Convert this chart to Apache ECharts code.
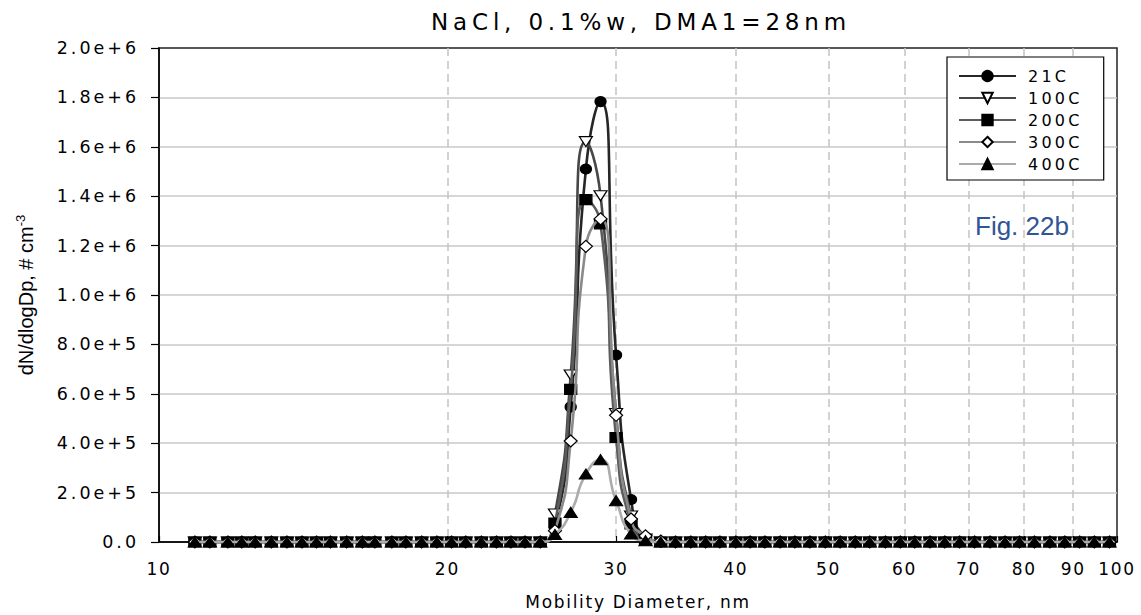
<!DOCTYPE html>
<html>
<head>
<meta charset="utf-8">
<script src="https://cdn.jsdelivr.net/npm/echarts@6/dist/echarts.min.js"></script>
<style>
  html, body { margin: 0; padding: 0; background: #fff; }
  #chart { width: 1141px; height: 615px; }
  #chart text[fill="#000001"] { letter-spacing: 0.21em; }
  #chart text[fill="#000002"] { letter-spacing: 0.17em; }
  #chart text[fill="#000003"] { letter-spacing: 0.1em; }
  #chart text[fill="#000004"] { letter-spacing: 0.2em; }
  #chart text[fill="#000005"] { letter-spacing: 0.1em; }
</style>
</head>
<body>
<div id="chart"></div>
<script>
// Mobility diameters (nm), SMPS channel midpoints
const diameters = [10.9, 11.3, 11.8, 12.2, 12.6, 13.1, 13.6, 14.1, 14.6, 15.1, 15.7, 16.3, 16.8, 17.5, 18.1, 18.8, 19.5, 20.2, 20.9, 21.7, 22.5, 23.3, 24.1, 25.0,
  25.9, 26.9, 27.9, 28.9, 30.0, 31.1, 32.2, 33.4,
  34.6, 35.9, 37.2, 38.5, 40.0, 41.4, 42.9, 44.5, 46.1, 47.8, 49.6, 51.4, 53.3, 55.2, 57.3, 59.4, 61.5, 63.8, 66.1, 68.5, 71.0, 73.7, 76.4, 79.1, 82.0, 85.1, 88.2, 91.4, 94.7, 98.2];

const seriesNames = ['21C', '100C', '200C', '300C', '400C'];

const v21C = [0,0,0,0,0,0,0,0,0,0,0,0,0,0,0,0,0,0,0,0,0,0,0,0,
  60000, 547000, 1510000, 1783000, 757000, 172000, 20000, 0,
  0,0,0,0,0,0,0,0,0,0,0,0,0,0,0,0,0,0,0,0,0,0,0,0,0,0,0,0,0,0];
const v100C = [0,0,0,0,0,0,0,0,0,0,0,0,0,0,0,0,0,0,0,0,0,0,0,0,
  113000, 676000, 1621000, 1402000, 520000, 105000, 12000, 0,
  0,0,0,0,0,0,0,0,0,0,0,0,0,0,0,0,0,0,0,0,0,0,0,0,0,0,0,0,0,0];
const v200C = [0,0,0,0,0,0,0,0,0,0,0,0,0,0,0,0,0,0,0,0,0,0,0,0,
  77000, 618000, 1386000, 1288000, 423000, 73000, 8000, 0,
  0,0,0,0,0,0,0,0,0,0,0,0,0,0,0,0,0,0,0,0,0,0,0,0,0,0,0,0,0,0];
const v300C = [0,0,0,0,0,0,0,0,0,0,0,0,0,0,0,0,0,0,0,0,0,0,0,0,
  46000, 409000, 1197000, 1308000, 513000, 93000, 25000, 4000,
  0,0,0,0,0,0,0,0,0,0,0,0,0,0,0,0,0,0,0,0,0,0,0,0,0,0,0,0,0,0];
const v400C = [0,0,0,0,0,0,0,0,0,0,0,0,0,0,0,0,0,0,0,0,0,0,0,0,
  30000, 120000, 275000, 333000, 167000, 32000, 5000, 0,
  0,0,0,0,0,0,0,0,0,0,0,0,0,0,0,0,0,0,0,0,0,0,0,0,0,0,0,0,0,0];

const xTickValues = [10, 20, 30, 40, 50, 60, 70, 80, 90, 100];
const xTickLabels = ['10', '20', '30', '40', '50', '60', '70', '80', '90', '100'];
const yTickLabels = ['0.0', '2.0e+5', '4.0e+5', '6.0e+5', '8.0e+5', '1.0e+6', '1.2e+6', '1.4e+6', '1.6e+6', '1.8e+6', '2.0e+6'];

const FONT = '"Liberation Sans", Arial, Helvetica, sans-serif';
const WIDE = '"DejaVu Sans", "Liberation Sans", sans-serif';

const styles = [
  { values: v21C,  symbol: 'circle',   size: [11, 10], rotate: 0,   fill: '#000', line: '#262626' },
  { values: v100C, symbol: 'triangle', size: [13, 10], rotate: 180, fill: '#fff', line: '#474747' },
  { values: v200C, symbol: 'rect',     size: [12, 10], rotate: 0,   fill: '#000', line: '#5c5c5c' },
  { values: v300C, symbol: 'diamond',  size: [13, 12], rotate: 0,   fill: '#fff', line: '#8a8a8a' },
  { values: v400C, symbol: 'triangle', size: [13, 10], rotate: 0,   fill: '#000', line: '#ababab' }
];

const series = styles.map((s, k) => ({
  name: seriesNames[k],
  type: 'line',
  smooth: 0.6,
  symbol: s.symbol,
  symbolSize: s.size,
  symbolRotate: s.rotate,
  showAllSymbol: true,
  clip: false,
  z: 2 + k,
  data: diameters.map((d, i) => [d, s.values[i]]),
  lineStyle: { color: s.line, width: 2.6 },
  itemStyle: { color: s.fill, borderColor: '#000', borderWidth: 1.2 }
}));

const chart = echarts.init(document.getElementById('chart'), null, { renderer: 'svg' });
chart.setOption({
  animation: false,
  backgroundColor: '#fff',
  grid: { left: 159, right: 24, top: 48, bottom: 72, show: true, borderColor: '#222', borderWidth: 1.5, backgroundColor: 'transparent' },
  graphic: [
    { type: 'text', x: 641, y: 21.5, z: 10,
      style: { text: 'NaCl, 0.1%w, DMA1=28nm', fill: '#000001', font: '23px ' + WIDE, align: 'center', verticalAlign: 'middle', textAlign: 'center', textVerticalAlign: 'middle' } },
    { type: 'text', x: 975, y: 226, z: 10,
      style: { text: 'Fig. 22b', fill: '#2f5597', font: '26px ' + FONT, align: 'left', verticalAlign: 'middle', textAlign: 'left', textVerticalAlign: 'middle' } }
  ],
  legend: {
    data: seriesNames,
    orient: 'vertical',
    left: 947,
    top: 57,
    padding: [11, 34, 8, 11],
    itemWidth: 57,
    itemHeight: 13,
    itemGap: 6,
    borderColor: '#000',
    borderWidth: 1.2,
    backgroundColor: '#fff',
    textStyle: { fontSize: 16, color: '#000004', fontFamily: WIDE, padding: [0, 0, 0, 7] }
  },
  xAxis: {
    type: 'log',
    logBase: 10,
    min: 10,
    max: 100,
    name: 'Mobility Diameter, nm',
    nameLocation: 'middle',
    nameGap: 51,
    nameTextStyle: { fontSize: 17, color: '#000005', fontFamily: WIDE },
    axisLine: { show: true, lineStyle: { color: '#000', width: 1.5 } },
    axisTick: { show: true, inside: true, length: 6, customValues: xTickValues, lineStyle: { color: '#000', width: 1.2 } },
    minorTick: { show: false },
    axisLabel: {
      customValues: xTickValues,
      margin: 18,
      fontSize: 17,
      color: '#000003',
      fontFamily: WIDE,
      formatter: function (v) { const i = xTickValues.indexOf(Math.round(v)); return i >= 0 ? xTickLabels[i] : ''; }
    },
    splitLine: { show: true, showMinLine: false, showMaxLine: false, lineStyle: { color: '#c4c4c4', width: 1.5, type: [8, 5] } }
  },
  yAxis: {
    type: 'value',
    min: 0,
    max: 2000000,
    interval: 200000,
    name: '{a|dN/dlogDp, # cm}{b|-3}',
    nameLocation: 'middle',
    nameGap: 121,
    nameRotate: 90,
    nameTextStyle: {
      color: '#000006', fontFamily: FONT, fontSize: 20,
      rich: {
        a: { fontSize: 20, color: '#000006', fontFamily: FONT, lineHeight: 24 },
        b: { fontSize: 13, color: '#000006', fontFamily: FONT, verticalAlign: 'top', lineHeight: 24 }
      }
    },
    axisLine: { show: true, lineStyle: { color: '#000', width: 1.5 } },
    axisTick: { show: true, inside: false, length: 8, lineStyle: { color: '#000', width: 1.2 } },
    axisLabel: {
      margin: 20,
      fontSize: 17.5,
      color: '#000002',
      fontFamily: WIDE,
      formatter: function (v) { return yTickLabels[Math.round(v / 200000)]; }
    },
    splitLine: { show: true, showMinLine: false, showMaxLine: false, lineStyle: { color: '#c8c8c8', width: 1.5 } }
  },
  series: series
});
</script>
</body>
</html>
